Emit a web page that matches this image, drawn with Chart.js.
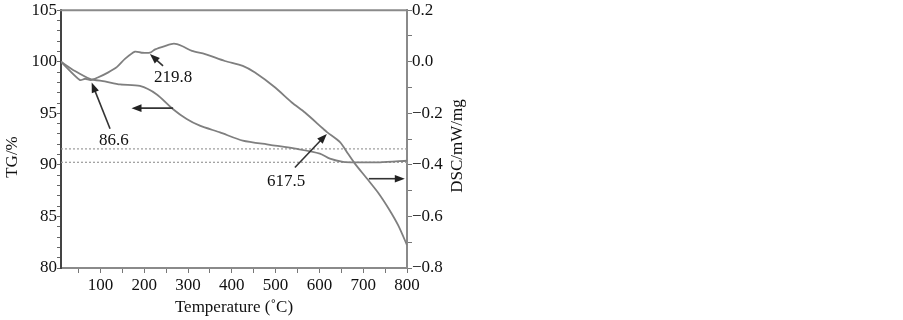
<!DOCTYPE html>
<html>
<head>
<meta charset="utf-8">
<script src="https://cdn.jsdelivr.net/npm/chart.js@4.4.0/dist/chart.umd.min.js"></script>
<style>
  html, body { margin: 0; padding: 0; background: #fff; }
  #wrap { width: 903px; height: 320px; position: relative; }
</style>
</head>
<body>
<div id="wrap"><canvas id="tgChart"></canvas></div>
<script>
// TG curve (left axis), temperature in °C
const tgTemps = [10, 42, 76, 110, 145, 190, 228, 266, 297, 327, 373, 425, 487, 549, 601, 624, 654, 686, 738, 800];
const tgValues = [100, 99.1, 98.35, 98.1, 97.8, 97.65, 96.85, 95.4, 94.45, 93.8, 93.15, 92.35, 91.95, 91.55, 91.1, 90.6, 90.3, 90.25, 90.25, 90.4];

// DSC curve (right axis), mW/mg
const dscTemps = [10, 53, 65, 78, 94, 117, 138, 156, 179, 194, 213, 225, 247, 268, 286, 309, 339, 384, 425, 453, 499, 537, 567, 608, 618, 647, 665, 681, 708, 735, 760, 780, 800];
const dscValues = [0.0, -0.071, -0.066, -0.071, -0.061, -0.042, -0.02, 0.011, 0.039, 0.035, 0.035, 0.048, 0.061, 0.07, 0.061, 0.042, 0.03, 0.003, -0.016, -0.042, -0.1, -0.158, -0.197, -0.259, -0.274, -0.312, -0.356, -0.395, -0.452, -0.51, -0.575, -0.635, -0.711];

// dotted reference levels on the TG axis
const refLevels = [91.55, 90.25];

// ticks
const xTicks = [50, 100, 150, 200, 250, 300, 350, 400, 450, 500, 550, 600, 650, 700, 750, 800];
const tgTicks = [80, 81, 82, 83, 84, 85, 86, 87, 88, 89, 90, 91, 92, 93, 94, 95, 96, 97, 98, 99, 100, 101, 102, 103, 104, 105];
const dscTicks = [-0.8, -0.7, -0.6, -0.5, -0.4, -0.3, -0.2, -0.1, 0.0, 0.1, 0.2];

// annotations, [temperature, TG] for arrow tail, arrow tip, text centre
const peakNotes = [
  { text: '219.8', from: [243, 99.6], to: [213, 100.75], at: [266, 98.5] },
  { text: '86.6', from: [122, 93.5], to: [80, 97.98], at: [131, 92.35] },
  { text: '617.5', from: [544, 89.75], to: [617, 93.0], at: [524, 88.35] }
];
const axisArrows = [
  { from: [266, 95.5], to: [171, 95.5] },
  { from: [713, 88.66], to: [795, 88.66] }
];

const FONT = '"Liberation Serif", "DejaVu Serif", serif';
const toPts = (xs, ys) => xs.map((x, i) => ({ x: x, y: ys[i] }));

function arrow(ctx, x1, y1, x2, y2) {
  const a = Math.atan2(y2 - y1, x2 - x1);
  ctx.beginPath();
  ctx.moveTo(x1, y1);
  ctx.lineTo(x2 - 6 * Math.cos(a), y2 - 6 * Math.sin(a));
  ctx.stroke();
  ctx.beginPath();
  ctx.moveTo(x2, y2);
  ctx.lineTo(x2 - 10 * Math.cos(a) + 3.8 * Math.sin(a), y2 - 10 * Math.sin(a) - 3.8 * Math.cos(a));
  ctx.lineTo(x2 - 10 * Math.cos(a) - 3.8 * Math.sin(a), y2 - 10 * Math.sin(a) + 3.8 * Math.cos(a));
  ctx.closePath();
  ctx.fill();
}

const extras = {
  id: 'extras',
  afterDraw(chart) {
    const { ctx, chartArea: ca, scales } = chart;
    const px = v => scales.x.getPixelForValue(v);
    const py = v => scales.y.getPixelForValue(v);
    ctx.save();
    // top frame
    ctx.strokeStyle = '#8a8a8a';
    ctx.lineWidth = 2;
    ctx.beginPath();
    ctx.moveTo(ca.left - 1, ca.top);
    ctx.lineTo(ca.right + 1, ca.top);
    ctx.stroke();

    ctx.strokeStyle = '#333';
    ctx.fillStyle = '#222';
    ctx.lineWidth = 1.6;
    peakNotes.forEach(n => arrow(ctx, px(n.from[0]), py(n.from[1]), px(n.to[0]), py(n.to[1])));
    axisArrows.forEach(n => arrow(ctx, px(n.from[0]), py(n.from[1]), px(n.to[0]), py(n.to[1])));

    ctx.fillStyle = '#111';
    ctx.font = '17px ' + FONT;
    ctx.textAlign = 'center';
    ctx.textBaseline = 'middle';
    peakNotes.forEach(n => ctx.fillText(n.text, px(n.at[0]), py(n.at[1])));

    // axis titles
    ctx.fillText('Temperature (˚C)', (ca.left + ca.right) / 2, 308);
    ctx.save();
    ctx.translate(13, 157);
    ctx.rotate(-Math.PI / 2);
    ctx.fillText('TG/%', 0, 0);
    ctx.restore();
    ctx.save();
    ctx.translate(458, 146);
    ctx.rotate(-Math.PI / 2);
    ctx.fillText('DSC/mW/mg', 0, 0);
    ctx.restore();
    ctx.restore();
  }
};

const tickFont = { family: FONT, size: 17 };

new Chart(document.getElementById('tgChart'), {
  type: 'line',
  data: {
    datasets: [
      {
        label: 'TG',
        data: toPts(tgTemps, tgValues),
        yAxisID: 'y',
        borderColor: '#7f7f7f',
        borderWidth: 1.8,
        pointRadius: 0,
        tension: 0.25
      },
      {
        label: 'DSC',
        data: toPts(dscTemps, dscValues),
        yAxisID: 'y1',
        borderColor: '#7f7f7f',
        borderWidth: 1.8,
        pointRadius: 0,
        tension: 0.25
      },
      ...refLevels.map(v => ({
        label: 'ref ' + v,
        data: [{ x: 10, y: v }, { x: 800, y: v }],
        yAxisID: 'y',
        borderColor: '#9a9a9a',
        borderWidth: 1.2,
        borderDash: [2, 2],
        pointRadius: 0
      }))
    ]
  },
  options: {
    responsive: true,
    maintainAspectRatio: false,
    animation: false,
    layout: { padding: { top: 8, right: 436, bottom: 0, left: 0 } },
    plugins: { legend: { display: false }, tooltip: { enabled: false } },
    scales: {
      x: {
        type: 'linear',
        min: 10,
        max: 800,
        afterBuildTicks: s => { s.ticks = xTicks.map(v => ({ value: v })); },
        afterFit: s => { s.height = 52; },
        grid: { drawOnChartArea: false, drawTicks: true, tickLength: 5, color: '#777' },
        border: { display: true, color: '#8a8a8a', width: 2 },
        ticks: {
          font: tickFont, color: '#111', padding: 2, maxRotation: 0, autoSkip: false,
          callback: v => (v % 100 === 0 ? String(v) : '')
        }
      },
      y: {
        position: 'left',
        min: 80,
        max: 105,
        afterBuildTicks: s => { s.ticks = tgTicks.map(v => ({ value: v })); },
        afterFit: s => { s.width = 61; },
        grid: { drawOnChartArea: false, drawTicks: true, tickLength: 4, color: '#666' },
        border: { display: true, color: '#444', width: 2 },
        ticks: {
          font: tickFont, color: '#111', padding: 0, autoSkip: false,
          callback: v => (v % 5 === 0 ? String(v) : '')
        }
      },
      y1: {
        position: 'right',
        min: -0.8,
        max: 0.2,
        afterBuildTicks: s => { s.ticks = dscTicks.map(v => ({ value: v })); },
        afterFit: s => { s.width = 60; },
        grid: { drawOnChartArea: false, drawTicks: true, tickLength: 5, color: '#777' },
        border: { display: true, color: '#8a8a8a', width: 2 },
        ticks: {
          font: tickFont, color: '#111', padding: 0, autoSkip: false,
          callback: v => {
            const k = Math.round(v * 10);
            if (k % 2 !== 0) return '';
            return (k < 0 ? '\u2212' : '') + Math.abs(v).toFixed(1);
          }
        }
      }
    }
  },
  plugins: [extras]
});
</script>
</body>
</html>
